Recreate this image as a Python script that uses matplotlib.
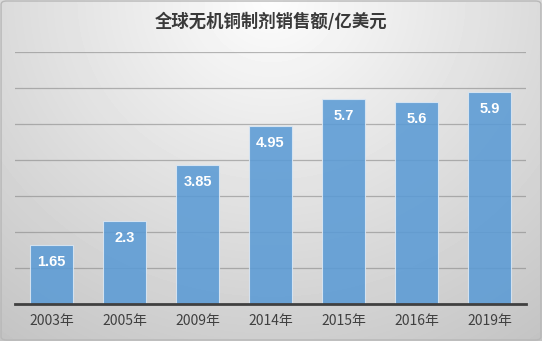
import numpy as np
import matplotlib
matplotlib.use("Agg")
import matplotlib.pyplot as plt
from matplotlib.patches import FancyBboxPatch

plt.rcParams['font.family'] = ['Noto Sans CJK SC', 'DejaVu Sans']

years = ['2003年', '2005年', '2009年', '2014年', '2015年', '2016年', '2019年']
sales = [1.65, 2.3, 3.85, 4.95, 5.7, 5.6, 5.9]
labels = ['1.65', '2.3', '3.85', '4.95', '5.7', '5.6', '5.9']
title = '全球无机铜制剂销售额/亿美元'

W, H = 542, 341
fig = plt.figure(figsize=(W / 100, H / 100), dpi=100)

# radial gradient background
bg = fig.add_axes([0, 0, 1, 1], zorder=0)
yy, xx = np.mgrid[0:H, 0:W]
r = np.sqrt(((xx - W * 0.5) / (W * 0.75)) ** 2 + ((yy - 0) / (H * 1.1)) ** 2)
shade = 0.99 - 0.2 * np.clip(r, 0, 1.2)
bg.imshow(shade, cmap='gray', vmin=0, vmax=1, aspect='auto', extent=[0, 1, 0, 1], origin='upper')
bg.add_patch(FancyBboxPatch((0.002, 0.003), 0.996, 0.994, boxstyle='round,pad=0,rounding_size=0.01',
                            fill=False, ec='#b8b8b8', lw=1, transform=bg.transAxes))
bg.set_xlim(0, 1)
bg.set_ylim(0, 1)
bg.axis('off')

ax = fig.add_axes([15 / W, 1 - 304 / H, (526 - 15) / W, (304 - 52) / H], zorder=1)
ax.patch.set_alpha(0)
x = np.arange(len(years))
ax.set_xlim(-0.5, len(years) - 0.5)
ax.set_ylim(0, 7)
ax.set_yticks(np.arange(1, 8))
ax.yaxis.grid(True, color='#808080', alpha=0.55, lw=0.9)
ax.set_axisbelow(True)
bars = ax.bar(x, sales, width=0.59, color='#5b9bd5', alpha=0.88, edgecolor='#dce8f4', lw=0.8, zorder=2)
for xi, v, lab in zip(x, sales, labels):
    ax.text(xi, v - 0.47, lab, ha='center', va='center', color='white', fontsize=10.5,
            fontweight='bold', family=['Liberation Sans', 'DejaVu Sans'], zorder=3)
for s in ['top', 'right', 'left']:
    ax.spines[s].set_visible(False)
ax.spines['bottom'].set_color('#404040')
ax.spines['bottom'].set_linewidth(2)
ax.spines['bottom'].set_zorder(4)
ax.tick_params(axis='y', left=False, labelleft=False)
ax.tick_params(axis='x', length=0, pad=7, labelsize=10, labelcolor='#404040')
ax.set_xticks(x)
ax.set_xticklabels(years)

fig.text(0.5, 1 - 22 / H, title, ha='center', va='center', fontsize=12.5, fontweight='bold',
         color='#3a3a3a')

fig.savefig('out.png', dpi=100)
